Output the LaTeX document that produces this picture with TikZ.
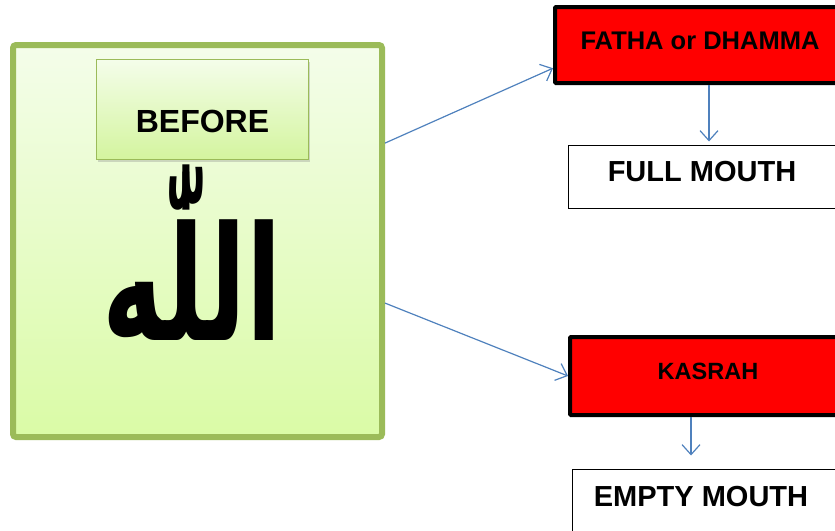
\documentclass[tikz,border=0pt]{standalone}
\usepackage{fontspec}
\setmainfont{Liberation Sans}
\newfontfamily\arabicfont[Script=Arabic]{DejaVu Sans Bold}
\TeXXeTstate=1
\usepackage{tikz}
\usetikzlibrary{arrows.meta, positioning, calc, shadows}
\definecolor{vgreen}{HTML}{9BBB59}
\definecolor{vgreentop}{HTML}{F4FDEA}
\definecolor{vgreenbot}{HTML}{DAFBA6}
\definecolor{vblue}{HTML}{4F81BD}
\definecolor{vred}{HTML}{FF0000}

\begin{document}
\begin{tikzpicture}[x=1pt, y=-1pt,
    panel/.style={rounded corners=3pt, draw=vgreen, line width=6pt,
                  top color=vgreentop, bottom color=vgreenbot,
                  drop shadow={shadow xshift=1pt, shadow yshift=-2pt, opacity=0.35},
                  minimum width=369pt, minimum height=392pt, inner sep=0pt},
    tag/.style={draw=vgreen, line width=1.5pt, top color=vgreentop, bottom color=vgreenbot!90!vgreen,
                drop shadow={shadow xshift=1pt, shadow yshift=-2pt, opacity=0.3},
                minimum width=212pt, minimum height=100pt},
    vowel/.style={draw=black, line width=4pt, fill=vred, rounded corners=1pt, inner sep=0pt},
    mouth/.style={draw=black, line width=1pt, fill=white, inner sep=0pt},
    word/.style={font=\bfseries\fontsize{#1}{#1}\selectfont},
    link/.style={-{Straight Barb[length=10pt, width=18pt]}, vblue, line width=1.2pt},
]
    \useasboundingbox (0,0) rectangle (835,530);
    \clip (0,0) rectangle (835,530);

    % Left panel
    \node[panel] (panel) at (197.5,241) {};
    \node[tag] (before) at (202.5,109.5) {};
    \node[word=32] (beforetxt) at (202.5,121) {BEFORE};
    \node[font=\arabicfont\fontsize{150}{150}\selectfont, inner sep=0pt] (allah) at (192,253)
        {\scalebox{0.69}[1.06]{\beginR اللّٰه\endR}};

    % Right column
    \node[vowel, minimum width=290pt, minimum height=76pt] (fatha) at (700,45) {};
    \node[word=25.5] (fathatxt) at (700,41) {FATHA or DHAMMA};
    \node[mouth, minimum width=277pt, minimum height=63pt] (full) at (706.5,176.5) {};
    \node[word=29] (fulltxt) at (702,172) {FULL MOUTH};

    \node[vowel, minimum width=275pt, minimum height=78pt] (kasrah) at (707.5,376) {};
    \node[word=23.5] (kasrahtxt) at (708,371) {KASRAH};
    \node[mouth, minimum width=273pt, minimum height=100pt] (empty) at (708.5,519) {};
    \node[word=29] (emptytxt) at (701,497) {EMPTY MOUTH};

    % Arrows
    \draw[link] ($(panel.north east)!0.254!(panel.south east)$) -- ($(fatha.north west)!0.79!(fatha.south west)$);
    \draw[link] ($(panel.north east)!0.656!(panel.south east)$) -- (kasrah.west);
    \draw[link] ([xshift=9pt]fatha.south) -- ([xshift=2.5pt, yshift=3pt]full.north);
    \draw[link] ([xshift=-16.5pt]kasrah.south) -- ([xshift=-17.5pt, yshift=13pt]empty.north);
\end{tikzpicture}
\end{document}
